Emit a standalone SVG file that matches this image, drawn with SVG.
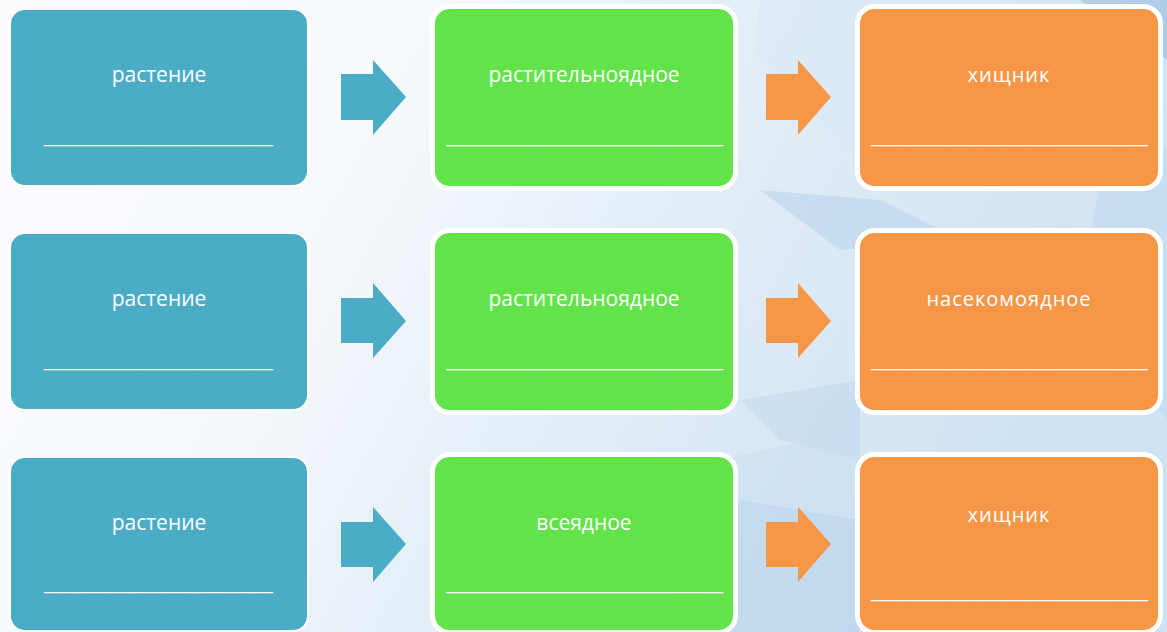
<svg xmlns="http://www.w3.org/2000/svg" width="1167" height="632" viewBox="0 0 1167 632">
<defs>
<linearGradient id="bg" x1="0" y1="0" x2="1" y2="0.3">
<stop offset="0" stop-color="#fbfcfe"/>
<stop offset="0.35" stop-color="#f6f9fc"/>
<stop offset="0.6" stop-color="#e3eef7"/>
<stop offset="1" stop-color="#cfe2f2"/>
</linearGradient>
<style>
.lbl{font-family:"Open Sans","Noto Sans","DejaVu Sans",sans-serif;font-size:21px;fill:#ffffff;text-anchor:middle}
.or{font-size:20px;letter-spacing:1px}
.us{font-family:"Open Sans","Noto Sans","DejaVu Sans",sans-serif;font-size:20px;fill:#ffffff}
.blue{fill:#4bacc6;stroke:#ffffff;stroke-width:2}
.green{fill:#62e34a;stroke:#ffffff;stroke-width:5}
.orange{fill:#f79646;stroke:#ffffff;stroke-width:5}
.ab{fill:#4bacc6}
.ao{fill:#f79646}
</style>
</defs>
<rect width="1167" height="632" fill="url(#bg)"/>
<g id="background" opacity="0.4">
<polygon points="700,0 1167,0 1167,240 900,200" fill="#d6e7f5"/>
<polygon points="760,190 880,200 960,240 840,250" fill="#a9c9e8"/>
<polygon points="1080,0 1167,0 1167,60" fill="#7fa8d8"/>
<polygon points="1100,180 1167,150 1167,420 1080,300" fill="#bcd6ee"/>
<polygon points="460,632 620,480 860,430 860,632" fill="#c6ddf1"/>
<polygon points="600,632 740,500 860,520 860,632" fill="#a9c9e8"/>
<polygon points="740,400 860,380 860,460 780,440" fill="#b8d3ec"/>
<polygon points="640,0 760,0 740,200 700,220" fill="#e3eef8"/>
</g>
<g id="connectors">
<polygon class="ab" points="341,74 373,74 373,60 406,97 373,135 373,120 341,120"/>
<polygon class="ab" points="341,298 373,298 373,283 406,321 373,358 373,343 341,343"/>
<polygon class="ab" points="341,522 373,522 373,507 406,544 373,582 373,567 341,567"/>
<polygon class="ao" points="766,74 798,74 798,60 831,97 798,135 798,120 766,120"/>
<polygon class="ao" points="766,298 798,298 798,283 831,321 798,358 798,343 766,343"/>
<polygon class="ao" points="766,522 798,522 798,507 831,544 798,582 798,567 766,567"/>
</g>
<g id="node-r1c1"><rect class="blue" x="10" y="9" width="298" height="177" rx="15"/><text class="lbl" x="159" y="82">растение</text><text class="us" x="44" y="143" textLength="229" lengthAdjust="spacingAndGlyphs">____________________</text></g>
<g id="node-r1c2"><rect class="green" x="432.5" y="6.5" width="303" height="182" rx="17"/><text class="lbl" x="584" y="82">растительноядное</text><text class="us" x="446" y="143" textLength="277" lengthAdjust="spacingAndGlyphs">________________________</text></g>
<g id="node-r1c3"><rect class="orange" x="857.5" y="6.5" width="303" height="182" rx="17"/><text class="lbl or" x="1009" y="82">хищник</text><text class="us" x="871" y="143" textLength="277" lengthAdjust="spacingAndGlyphs">________________________</text></g>
<g id="node-r2c1"><rect class="blue" x="10" y="233" width="298" height="177" rx="15"/><text class="lbl" x="159" y="306">растение</text><text class="us" x="44" y="367" textLength="229" lengthAdjust="spacingAndGlyphs">____________________</text></g>
<g id="node-r2c2"><rect class="green" x="432.5" y="230.5" width="303" height="182" rx="17"/><text class="lbl" x="584" y="306">растительноядное</text><text class="us" x="446" y="367" textLength="277" lengthAdjust="spacingAndGlyphs">________________________</text></g>
<g id="node-r2c3"><rect class="orange" x="857.5" y="230.5" width="303" height="182" rx="17"/><text class="lbl or" x="1009" y="306">насекомоядное</text><text class="us" x="871" y="367" textLength="277" lengthAdjust="spacingAndGlyphs">________________________</text></g>
<g id="node-r3c1"><rect class="blue" x="10" y="457" width="298" height="174" rx="15"/><text class="lbl" x="159" y="530">растение</text><text class="us" x="44" y="590" textLength="229" lengthAdjust="spacingAndGlyphs">____________________</text></g>
<g id="node-r3c2"><rect class="green" x="432.5" y="454.5" width="303" height="178" rx="17"/><text class="lbl" x="584" y="530">всеядное</text><text class="us" x="446" y="590" textLength="277" lengthAdjust="spacingAndGlyphs">________________________</text></g>
<g id="node-r3c3"><rect class="orange" x="857.5" y="454.5" width="303" height="178" rx="17"/><text class="lbl or" x="1009" y="522">хищник</text><text class="us" x="871" y="598" textLength="277" lengthAdjust="spacingAndGlyphs">________________________</text></g>
</svg>
